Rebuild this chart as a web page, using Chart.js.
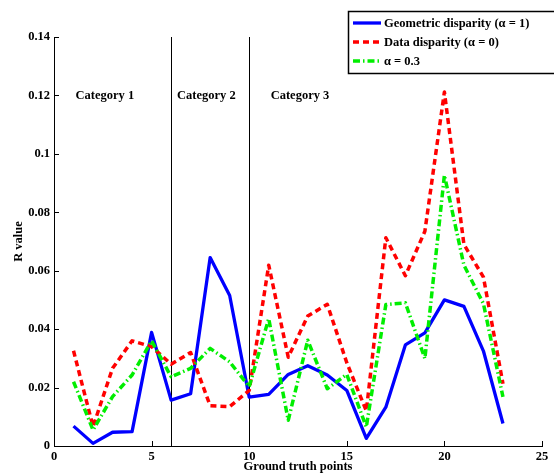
<!DOCTYPE html>
<html>
<head>
<meta charset="utf-8">
<script src="https://cdn.jsdelivr.net/npm/chart.js@4.4.0/dist/chart.umd.min.js"></script>
<style>
  body { margin: 0; background: #fff; }
  canvas { display: block; }
</style>
</head>
<body>
<canvas id="grafic" width="554" height="475"></canvas>
<script>
// Date
const puncte = [1, 2, 3, 4, 5, 6, 7, 8, 9, 10, 11, 12, 13, 14, 15, 16, 17, 18, 19, 20, 21, 22, 23];
const geometric = [0.0068, 0.0009, 0.0047, 0.0049, 0.0389, 0.0157, 0.0179, 0.0645, 0.0515, 0.0167, 0.0177, 0.0245, 0.0275, 0.0243, 0.0190, 0.0026, 0.0133, 0.0346, 0.0387, 0.0500, 0.0478, 0.0325, 0.0077];
const dateDisp = [0.0326, 0.0066, 0.0266, 0.0360, 0.0340, 0.0280, 0.0320, 0.0138, 0.0135, 0.0190, 0.0619, 0.0304, 0.0445, 0.0485, 0.0285, 0.0120, 0.0713, 0.0583, 0.0735, 0.1212, 0.0690, 0.0578, 0.0213];
const alfa03 = [0.0220, 0.0055, 0.0169, 0.0243, 0.0360, 0.0237, 0.0266, 0.0334, 0.0288, 0.0203, 0.0436, 0.0088, 0.0362, 0.0196, 0.0245, 0.0065, 0.0484, 0.0490, 0.0299, 0.0927, 0.0619, 0.0487, 0.0168];

// Separatoare si etichete categorii
const limite = [6, 10];
const categorii = ['Category 1', 'Category 2', 'Category 3'];
const pozCategorii = [1.1, 6.3, 11.1];
const etichetaY = 0.12;

const legenda = ['Geometric disparity (\u03b1 = 1)', 'Data disparity (\u03b1 = 0)', '\u03b1 = 0.3'];

const font = '"Liberation Serif", "Times New Roman", serif';

function serie(vals) {
    return puncte.map((x, i) => ({ x: x, y: vals[i] }));
}

// Plugin: separatoare, etichete, tick-uri interioare, legenda
const desen = {
    id: 'desen',
    beforeDatasetsDraw(chart) {
        const c = chart.ctx, xs = chart.scales.x, ys = chart.scales.y;
        c.save();
        c.strokeStyle = '#000';
        c.lineWidth = 1;
        limite.forEach(v => {
            const px = Math.round(xs.getPixelForValue(v)) + 0.5;
            c.beginPath();
            c.moveTo(px, ys.getPixelForValue(0));
            c.lineTo(px, ys.getPixelForValue(0.14));
            c.stroke();
        });
        c.fillStyle = '#000';
        c.font = 'bold 12.5px ' + font;
        c.textBaseline = 'middle';
        categorii.forEach((t, i) => {
            c.fillText(t, xs.getPixelForValue(pozCategorii[i]), ys.getPixelForValue(etichetaY));
        });
        c.restore();
    },
    afterDraw(chart) {
        const c = chart.ctx, xs = chart.scales.x, ys = chart.scales.y;
        c.save();
        c.strokeStyle = '#000';
        c.lineWidth = 1;
        // tick-uri spre interior
        xs.ticks.forEach(t => {
            const px = Math.round(xs.getPixelForValue(t.value)) + 0.5;
            c.beginPath();
            c.moveTo(px, ys.bottom);
            c.lineTo(px, ys.bottom - 5);
            c.stroke();
        });
        ys.ticks.forEach(t => {
            const py = Math.round(ys.getPixelForValue(t.value)) + 0.5;
            c.beginPath();
            c.moveTo(xs.left, py);
            c.lineTo(xs.left + 5, py);
            c.stroke();
        });

        // legenda
        const bx = 348.5, by = 11.5, bw = 220, bh = 62;
        c.fillStyle = '#fff';
        c.fillRect(bx, by, bw, bh);
        c.lineWidth = 1.5;
        c.strokeRect(bx, by, bw, bh);
        const rand = [23, 42, 61];
        chart.data.datasets.forEach((ds, i) => {
            c.save();
            c.strokeStyle = ds.borderColor;
            c.lineWidth = ds.borderWidth;
            c.setLineDash(ds.borderDash || []);
            c.beginPath();
            c.moveTo(353, rand[i]);
            c.lineTo(381, rand[i]);
            c.stroke();
            c.restore();
            c.fillStyle = '#000';
            c.font = 'bold 12.5px ' + font;
            c.textBaseline = 'middle';
            c.fillText(legenda[i], 384, rand[i] + 1);
        });
        c.restore();
    }
};

new Chart(document.getElementById('grafic').getContext('2d'), {
    type: 'line',
    data: {
        datasets: [
            { label: legenda[0], data: serie(geometric), borderColor: '#0000ff', borderWidth: 3.3, order: 2 },
            { label: legenda[1], data: serie(dateDisp), borderColor: '#ff0000', borderWidth: 3.5, borderDash: [6, 4], order: 1 },
            { label: legenda[2], data: serie(alfa03), borderColor: '#00ee00', borderWidth: 3.5, borderDash: [7, 3, 1.5, 3], order: 0 }
        ]
    },
    options: {
        responsive: false,
        animation: false,
        layout: { padding: { top: 37, right: 12, left: 0, bottom: 0 } },
        elements: { point: { radius: 0 }, line: { tension: 0, fill: false, borderJoinStyle: 'round' } },
        plugins: { legend: { display: false }, tooltip: { enabled: false } },
        scales: {
            x: {
                type: 'linear', min: 0, max: 25,
                grid: { display: false, drawTicks: false, tickLength: 0 },
                border: { display: true, color: '#000', width: 1 },
                ticks: { stepSize: 5, color: '#000', padding: 3, maxRotation: 0, font: { family: font, weight: 'bold', size: 12.5 } },
                title: { display: true, text: 'Ground truth points', color: '#000', padding: { top: 0, bottom: 1 }, font: { family: font, weight: 'bold', size: 12.5 } },
                afterFit: s => { s.height = 29; }
            },
            y: {
                min: 0, max: 0.14,
                grid: { display: false, drawTicks: false, tickLength: 0 },
                border: { display: true, color: '#000', width: 1 },
                ticks: {
                    stepSize: 0.02, color: '#000', padding: 4,
                    font: { family: font, weight: 'bold', size: 12.5 },
                    callback: v => String(Number(v.toFixed(2)))
                },
                title: { display: true, text: 'R value', color: '#000', padding: { top: 11, bottom: 0 }, font: { family: font, weight: 'bold', size: 12.5 } },
                afterFit: s => { s.width = 54; }
            }
        }
    },
    plugins: [desen]
});
</script>
</body>
</html>
